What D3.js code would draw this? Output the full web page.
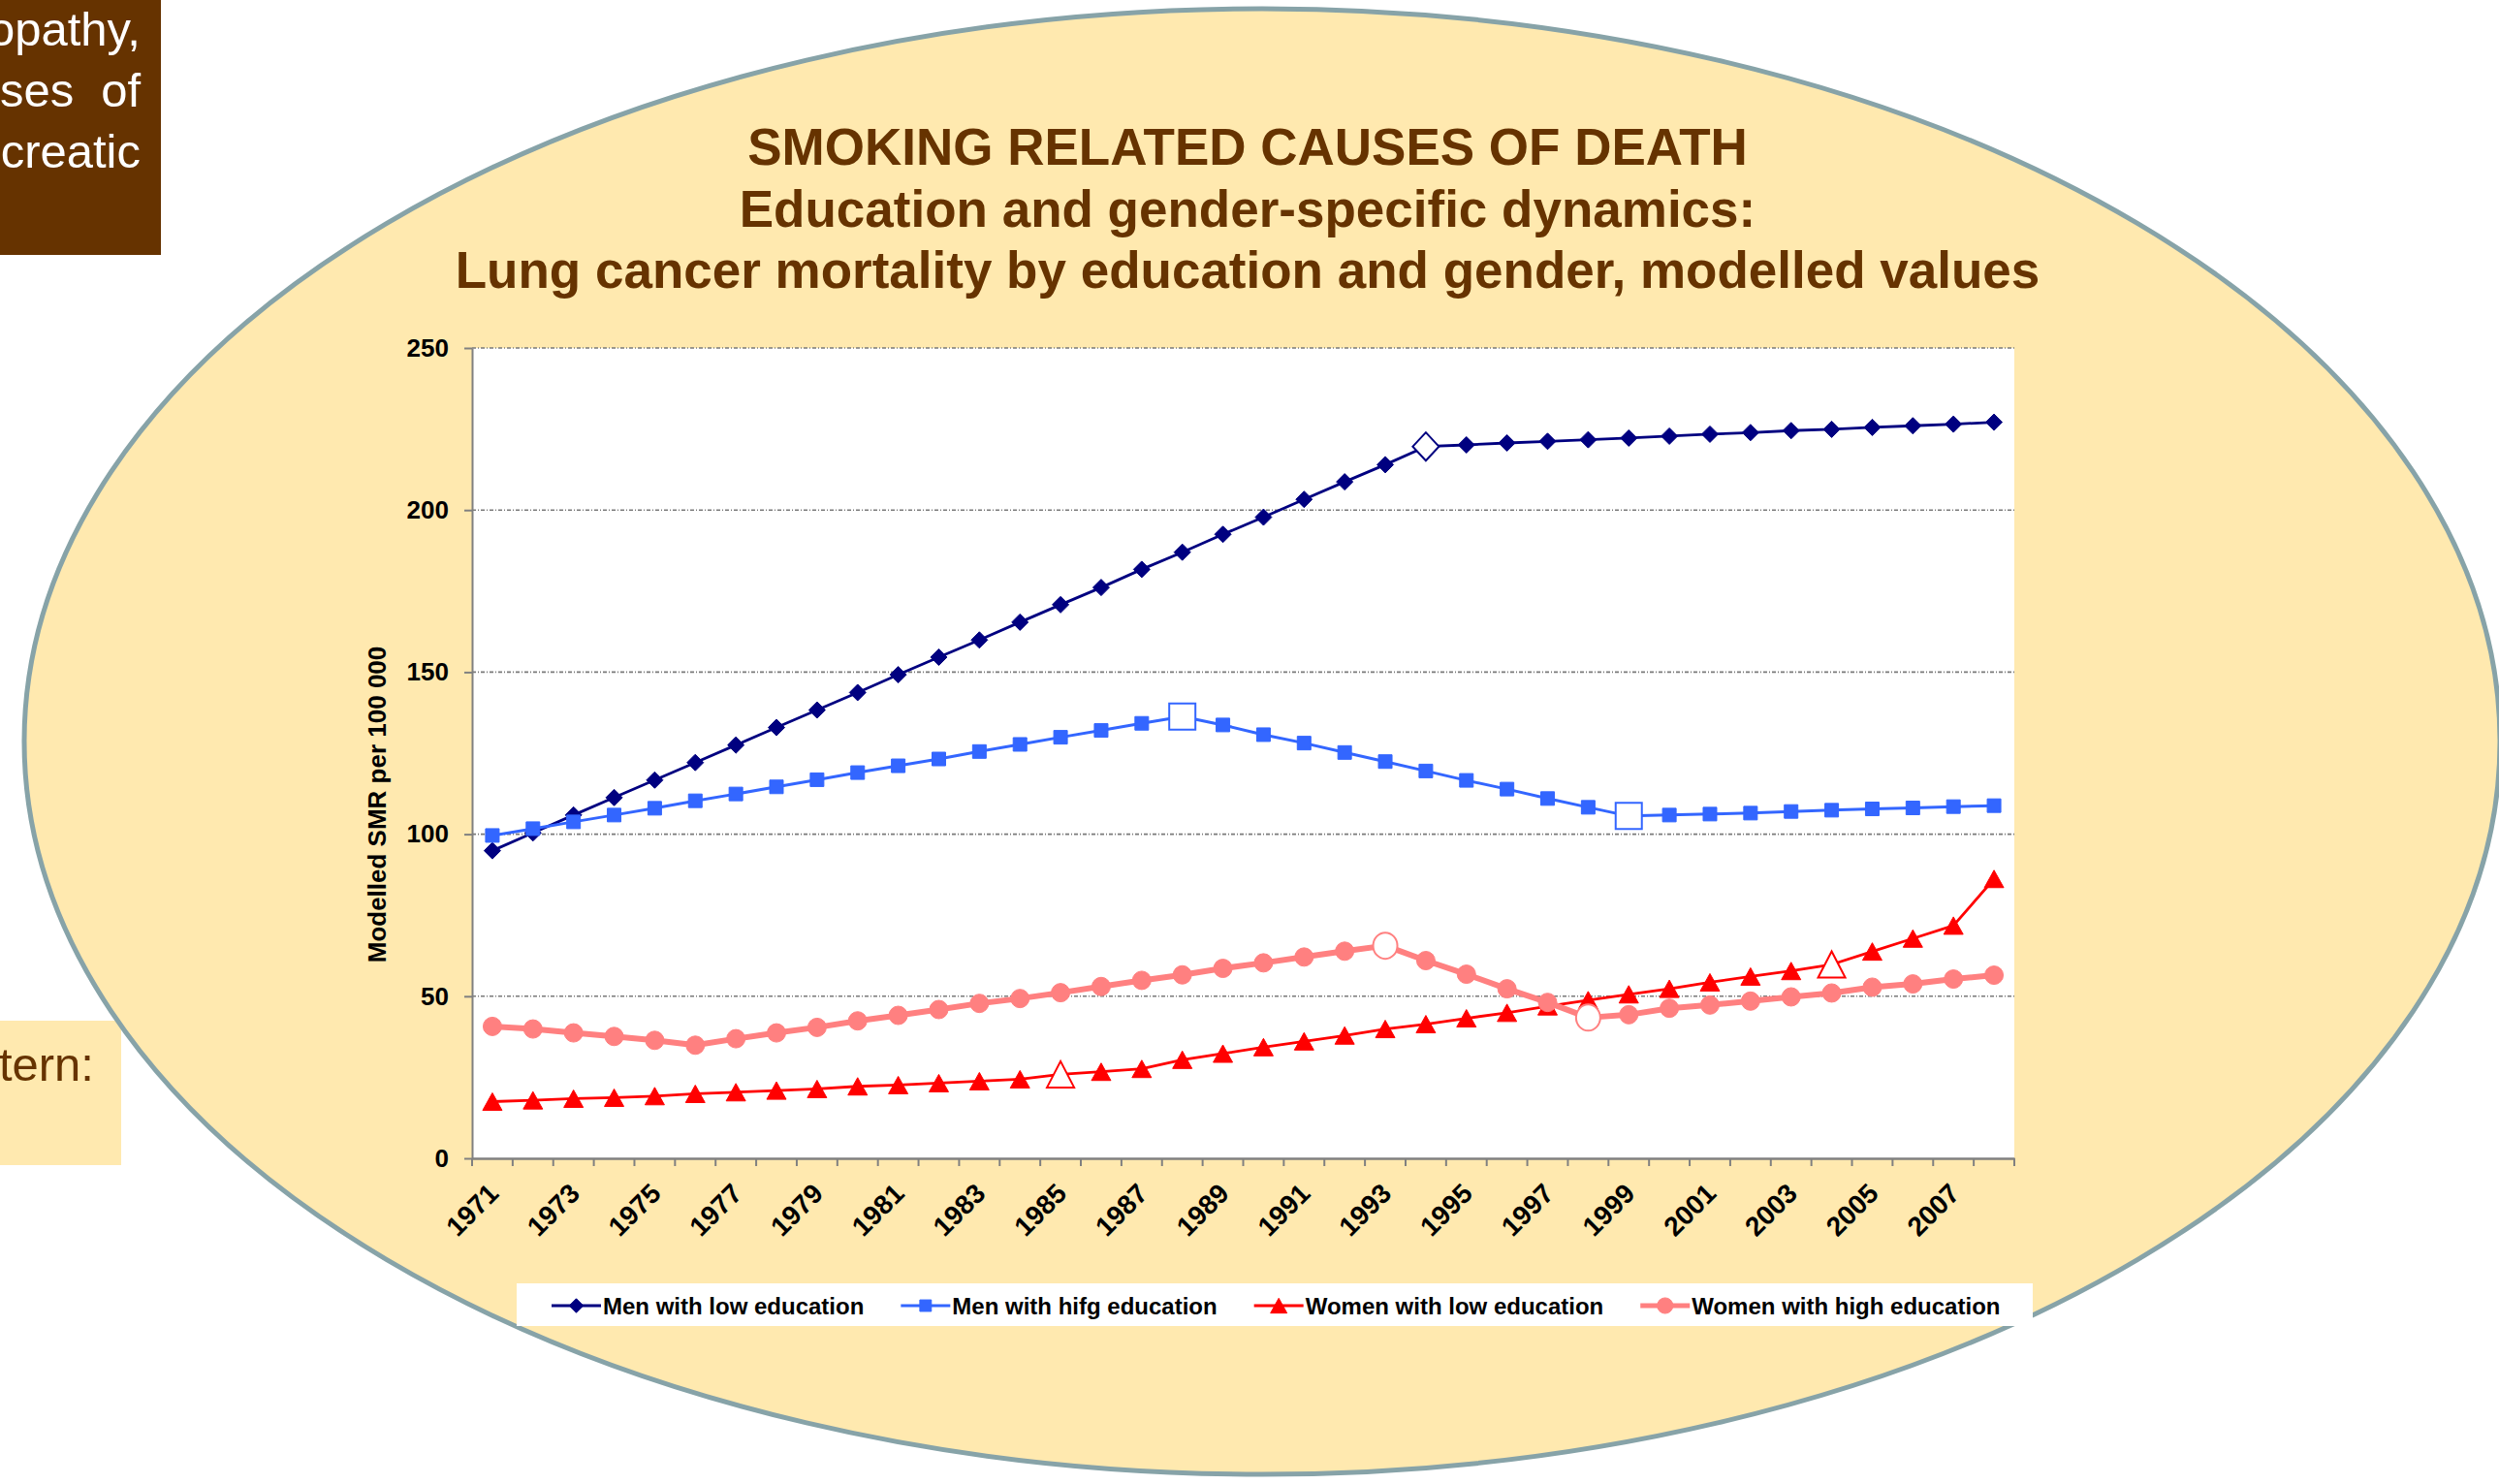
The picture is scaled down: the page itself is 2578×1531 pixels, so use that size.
<!DOCTYPE html>
<html><head><meta charset="utf-8">
<script src="https://cdn.jsdelivr.net/npm/d3@7"></script>
<style>
body{margin:0;background:#fff;}
svg{display:block;}
text{font-family:"Liberation Sans",Arial,Helvetica,sans-serif;}
</style>
</head><body>
<svg id="c" width="2578" height="1531"></svg>
<script>
// ---------------- data ----------------
const years = [1971,1972,1973,1974,1975,1976,1977,1978,1979,1980,1981,1982,1983,1984,1985,1986,1987,1988,1989,1990,
               1991,1992,1993,1994,1995,1996,1997,1998,1999,2000,2001,2002,2003,2004,2005,2006,2007,2008];
const menLow = [94.9,100.4,105.9,111.3,116.7,122.1,127.5,132.9,138.3,143.7,149.2,154.6,159.9,165.4,170.8,176.1,181.7,187.0,192.5,197.8,
                203.3,208.7,214.0,219.6,220.1,220.7,221.2,221.7,222.2,222.8,223.4,223.9,224.5,224.9,225.5,226.0,226.5,227.1];
const menHigh = [99.6,101.7,103.8,105.9,108.0,110.3,112.4,114.6,116.8,119.0,121.1,123.2,125.5,127.7,129.9,132.0,134.2,136.3,133.7,130.7,
                 128.1,125.2,122.4,119.5,116.6,113.9,111.0,108.3,105.6,105.9,106.2,106.5,107.0,107.4,107.8,108.1,108.5,108.8];
const womenLow = [17.5,17.9,18.4,18.7,19.2,19.9,20.4,20.9,21.4,22.2,22.6,23.2,23.8,24.4,25.9,26.7,27.6,30.4,32.3,34.3,
                  36.1,37.9,39.9,41.4,43.2,44.9,46.9,48.8,50.6,52.3,54.3,56.1,57.8,59.8,63.8,67.8,71.8,86.2];
const womenHigh = [40.7,39.9,38.7,37.6,36.4,34.9,36.9,38.7,40.4,42.4,44.1,45.9,47.8,49.3,51.1,53.0,54.9,56.6,58.6,60.3,
                   62.1,63.9,65.6,61.0,56.8,52.3,48.1,43.4,44.3,46.3,47.3,48.5,49.8,51.0,52.8,53.8,55.3,56.5];
const seriesNames = ["Men with low education","Men with hifg education","Women with low education","Women with high education"];
const openPointYears = [[1994],[1988,1999],[1985,2004],[1993,1998]];
const yTicks = [0,50,100,150,200,250];
const xLabelYears = [1971,1973,1975,1977,1979,1981,1983,1985,1987,1989,1991,1993,1995,1997,1999,2001,2003,2005,2007];
const titleLines = ["SMOKING RELATED CAUSES OF DEATH","Education and gender-specific dynamics:","Lung cancer mortality by education and gender, modelled values"];
const yTitle = "Modelled SMR per 100 000";
const sideTextTop = ["opathy,","ses","of","creatic"];
const sideTextBottom = "tern:";

// ---------------- styles ----------------
const BROWN = "#663300", CREAM = "#FFE9AF";
const series = [
  {name:seriesNames[0], values:menLow,   color:"#000080", lw:2.8, shape:"diamond",  w:17, h:17, ow:27, oh:29},
  {name:seriesNames[1], values:menHigh,  color:"#3366FF", lw:3,   shape:"square",   w:14, h:14, ow:27, oh:27},
  {name:seriesNames[2], values:womenLow, color:"#FF0000", lw:2.8, shape:"triangle", w:20, h:18, ow:28, oh:27},
  {name:seriesNames[3], values:womenHigh,color:"#FF8080", lw:6,   shape:"circle",   w:19, h:19, ow:25, oh:27}
];

const svg = d3.select("#c");

// side boxes (slide background fragments)
svg.append("rect").attr("x",0).attr("y",0).attr("width",166).attr("height",263).attr("fill",BROWN);
const st = svg.append("g").attr("fill","#fff").attr("font-size",49);
st.append("text").attr("x",145).attr("y",47).attr("text-anchor","end").text(sideTextTop[0]);
st.append("text").attr("x",0).attr("y",110).text(sideTextTop[1]);
st.append("text").attr("x",145).attr("y",110).attr("text-anchor","end").text(sideTextTop[2]);
st.append("text").attr("x",145).attr("y",173).attr("text-anchor","end").text(sideTextTop[3]);

svg.append("rect").attr("x",0).attr("y",1053).attr("width",125).attr("height",149).attr("fill",CREAM);
svg.append("text").attr("x",97).attr("y",1115).attr("text-anchor","end").attr("font-size",49)
   .attr("fill",BROWN).text(sideTextBottom);

// ellipse
svg.append("ellipse").attr("cx",1302).attr("cy",765).attr("rx",1277).attr("ry",756)
   .attr("fill",CREAM).attr("stroke","#87A3A8").attr("stroke-width",5);

// title
const tg = svg.append("g").attr("fill",BROWN).attr("font-weight","bold").attr("font-size",53).attr("text-anchor","middle");
[170,234,297].forEach((yy,i)=> tg.append("text").attr("x",1287).attr("y",yy).text(titleLines[i]));

// scales
const L=487, R=2078, T=359, B=1195;
const x = d3.scaleBand().domain(years).range([L,R]).padding(0);
const y = d3.scaleLinear().domain([0,250]).range([B,T]);
const cx = d => x(d) + x.bandwidth()/2;

// plot area
svg.append("rect").attr("x",L).attr("y",T).attr("width",R-L).attr("height",B-T).attr("fill","#fff");

// gridlines
svg.append("g").selectAll("line").data(yTicks.filter(d=>d>0)).join("line")
  .attr("x1",L).attr("x2",R).attr("y1",d=>y(d)).attr("y2",d=>y(d))
  .attr("stroke","#7a7a7a").attr("stroke-width",1.6).attr("stroke-dasharray","4,2,1,2");

// y axis
const gy = svg.append("g").attr("transform",`translate(${L},0)`)
  .call(d3.axisLeft(y).tickValues(yTicks).tickSize(8).tickSizeOuter(0).tickPadding(16));
gy.select(".domain").attr("stroke","#808080").attr("stroke-width",2);
gy.selectAll(".tick line").attr("stroke","#808080").attr("stroke-width",2);
gy.selectAll(".tick text").attr("font-size",26).attr("font-weight","bold").attr("fill","#000")
  .attr("font-family",'"Liberation Sans",Arial,sans-serif');

// x axis
const gx = svg.append("g").attr("transform",`translate(0,${B})`)
  .call(d3.axisBottom(x).tickValues(xLabelYears).tickSize(0).tickSizeOuter(0));
gx.select(".domain").attr("stroke","#808080").attr("stroke-width",2.5);
gx.selectAll(".tick text").attr("font-size",28).attr("font-weight","bold").attr("fill","#000")
  .attr("font-family",'"Liberation Sans",Arial,sans-serif')
  .attr("x",0).attr("y",0).attr("dy",null).attr("text-anchor","end")
  .attr("transform","translate(8,38) rotate(-45)");
const bounds = years.map(d=>x(d)).concat([R]);
svg.append("g").selectAll("line").data(bounds).join("line")
  .attr("x1",d=>d).attr("x2",d=>d).attr("y1",B).attr("y2",B+8)
  .attr("stroke","#808080").attr("stroke-width",2);

// y title
svg.append("text").attr("transform","translate(398,830) rotate(-90)").attr("text-anchor","middle")
  .attr("font-size",26).attr("font-weight","bold").attr("fill","#000").text(yTitle);

// marker helper
function marker(g, shape, w, h, fill, stroke, sw){
  if(shape==="circle"){
    return g.append("ellipse").attr("rx",w/2).attr("ry",h/2).attr("fill",fill).attr("stroke",stroke).attr("stroke-width",sw);
  }
  let p;
  if(shape==="diamond") p=`M0,${-h/2}L${w/2},0L0,${h/2}L${-w/2},0Z`;
  else if(shape==="square") p=`M${-w/2},${-h/2}H${w/2}V${h/2}H${-w/2}Z`;
  else p=`M0,${-h/2}L${w/2},${h/2}L${-w/2},${h/2}Z`;
  return g.append("path").attr("d",p).attr("fill",fill).attr("stroke",stroke).attr("stroke-width",sw);
}

// series
const line = d3.line().x((v,i)=>cx(years[i])).y(v=>y(v));
series.forEach((s,si)=>{
  const g = svg.append("g");
  g.append("path").attr("d",line(s.values)).attr("fill","none").attr("stroke",s.color)
   .attr("stroke-width",s.lw).attr("stroke-linejoin","round");
  s.values.forEach((v,i)=>{
    const yr = years[i];
    const mg = g.append("g").attr("transform",`translate(${cx(yr)},${y(v)})`);
    if(openPointYears[si].includes(yr)) marker(mg, s.shape, s.ow, s.oh, "#fff", s.color, 2);
    else marker(mg, s.shape, s.w, s.h, s.color, s.color, 1);
  });
});

// legend
svg.append("rect").attr("x",533).attr("y",1324).attr("width",1564).attr("height",44).attr("fill","#fff");
let lx = 569;
series.forEach(s=>{
  const g = svg.append("g").attr("transform",`translate(${lx},1347)`);
  g.append("line").attr("x1",0).attr("x2",51).attr("stroke",s.color).attr("stroke-width",Math.min(s.lw,5));
  const mg = g.append("g").attr("transform","translate(25.5,0)");
  marker(mg, s.shape, s.w*0.85, s.h*0.85, s.color, s.color, 1);
  const t = g.append("text").attr("x",53).attr("y",9).attr("font-size",24).attr("font-weight","bold")
    .attr("fill","#000").text(s.name);
  lx += 53 + t.node().getComputedTextLength() + 38;
});
</script>
</body></html>
